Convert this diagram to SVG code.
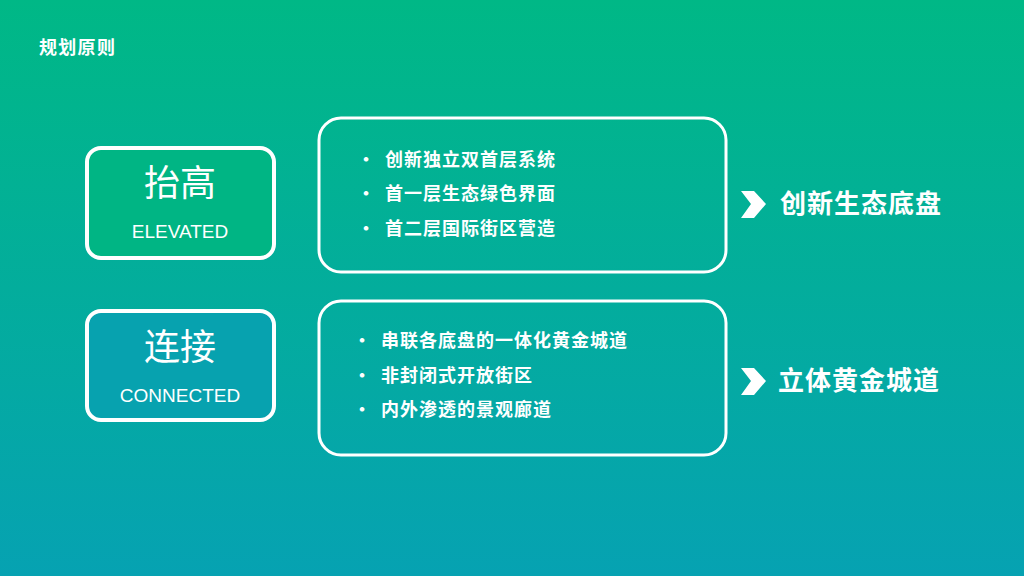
<svg xmlns="http://www.w3.org/2000/svg" width="1024" height="576" viewBox="0 0 1024 576">
<defs>
<linearGradient id="bg" x1="0" y1="0" x2="0" y2="1">
<stop offset="0" stop-color="#00B886"/>
<stop offset="1" stop-color="#06A2B2"/>
</linearGradient>
<style>
.t{font-family:"Noto Sans CJK SC","Noto Sans",sans-serif;fill:#fff}
.b{font-weight:bold}
.frame{fill:none;stroke:#fff;stroke-width:3}
.tag{stroke:#fff;stroke-width:4}
.en{font-family:"Liberation Sans",Arial,sans-serif;fill:#fff;font-size:19px}
.item{font-size:18px;font-weight:bold;letter-spacing:1px}
.res{font-size:26px;font-weight:bold;letter-spacing:1px}
</style>
</defs>
<rect width="1024" height="576" fill="url(#bg)"/>
<text class="t b" x="39" y="54" font-size="18" letter-spacing="1.3">规划原则</text>

<g id="tag-elevated">
<rect class="tag" x="87" y="148" width="187" height="110" rx="14" fill="#00B584"/>
<text class="t" x="180" y="196" font-size="36" text-anchor="middle">抬高</text>
<text class="en" x="180" y="238" text-anchor="middle">ELEVATED</text>
</g>
<g id="tag-connected">
<rect class="tag" x="87" y="311" width="187" height="109" rx="14" fill="#07A2AF"/>
<text class="t" x="180" y="360" font-size="36" text-anchor="middle">连接</text>
<text class="en" x="180" y="402" text-anchor="middle">CONNECTED</text>
</g>

<g id="box-1">
<rect class="frame" x="319" y="118" width="407" height="154" rx="22"/>
<text class="t item" x="357" y="166">•</text>
<text class="t item" x="385" y="166">创新独立双首层系统</text>
<text class="t item" x="357" y="200">•</text>
<text class="t item" x="385" y="200">首一层生态绿色界面</text>
<text class="t item" x="357" y="235">•</text>
<text class="t item" x="385" y="235">首二层国际街区营造</text>
</g>
<g id="box-2">
<rect class="frame" x="319" y="301" width="407" height="154" rx="22"/>
<text class="t item" x="353" y="347">•</text>
<text class="t item" x="381" y="347">串联各底盘的一体化黄金城道</text>
<text class="t item" x="353" y="382">•</text>
<text class="t item" x="381" y="382">非封闭式开放街区</text>
<text class="t item" x="353" y="416">•</text>
<text class="t item" x="381" y="416">内外渗透的景观廊道</text>
</g>

<g id="result-1">
<polygon points="741,191 754,191 766,204 754,218 741,218 751,204" fill="#fff"/>
<text class="t res" x="780" y="213">创新生态底盘</text>
</g>
<g id="result-2">
<polygon points="741,368 754,368 766,381 754,395 741,395 751,381" fill="#fff"/>
<text class="t res" x="778" y="390">立体黄金城道</text>
</g>
<g id="connectors"></g>
</svg>
